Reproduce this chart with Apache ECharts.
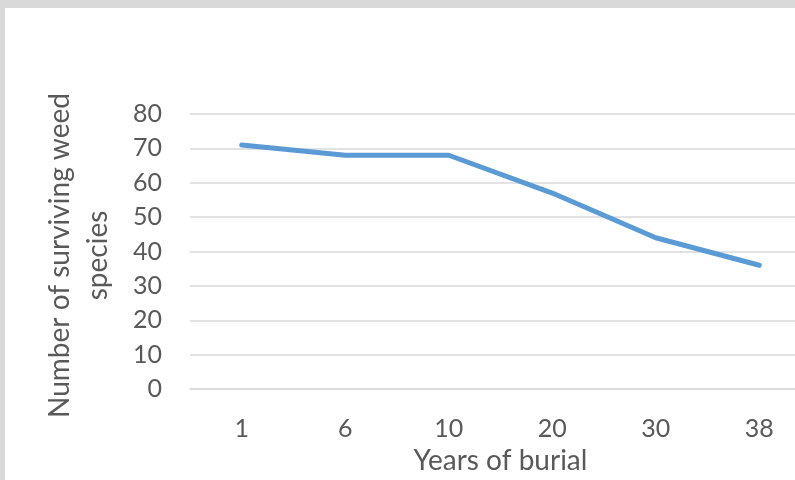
<!DOCTYPE html>
<html>
<head>
<meta charset="utf-8">
<script src="https://cdn.jsdelivr.net/npm/echarts@6/dist/echarts.min.js"></script>
<style>
  html, body { margin: 0; padding: 0; background: #d9d9d9; }
  #chart { position: absolute; left: 5px; top: 8px; width: 790px; height: 472px; background: #fff; }
</style>
</head>
<body>
<div id="chart"></div>
<script>
  // data
  const years = ['1', '6', '10', '20', '30', '38'];
  const survivingSpecies = [71, 68, 68, 57, 44, 36];

  const txt = '#595959';
  const font = 'Lato';

  let eChart = echarts.init(document.getElementById('chart'));
  eChart.setOption({
    animation: false,
    // plot area runs past the right edge of the picture
    grid: { left: 185, width: 621, top: 106, bottom: 91, outerBoundsMode: 'none' },
    xAxis: {
      type: 'category',
      data: years,
      axisTick: { show: false },
      axisLine: { lineStyle: { color: '#d9d9d9', width: 1.5 } },
      axisLabel: { color: txt, fontSize: 25, fontFamily: font, margin: 27 },
      name: 'Years of burial',
      nameLocation: 'middle',
      nameGap: 58,
      nameTextStyle: { color: txt, fontSize: 28, fontFamily: font }
    },
    yAxis: {
      type: 'value',
      min: 0,
      max: 80,
      interval: 10,
      axisLine: { show: false },
      axisTick: { show: false },
      splitLine: { lineStyle: { color: '#d9d9d9', width: 1.5 } },
      axisLabel: { color: txt, fontSize: 25, fontFamily: font, margin: 28 },
      name: 'Number of surviving weed\nspecies',
      nameLocation: 'middle',
      nameGap: 73,
      nameTextStyle: { color: txt, fontSize: 28, fontFamily: font, lineHeight: 38, padding: [0, 8, 0, 0] }
    },
    series: [{
      type: 'line',
      data: survivingSpecies,
      symbol: 'none',
      lineStyle: { color: '#5b9bd5', width: 5, cap: 'round', join: 'round' }
    }]
  });
</script>
</body>
</html>
